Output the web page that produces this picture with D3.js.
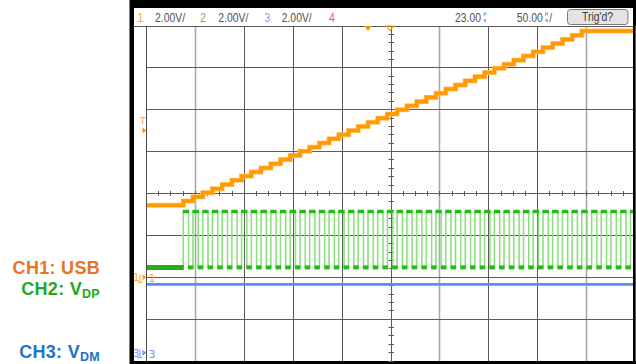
<!DOCTYPE html>
<html><head><meta charset="utf-8">
<script src="https://cdn.jsdelivr.net/npm/d3@7"></script>
<style>body{margin:0;background:#fff;} svg{display:block;}</style>
</head><body>
<svg id="c" width="636" height="364"></svg>
<script>
// ---------------- data ----------------
const channelNames = ["CH1: USB", "CH2: V", "CH3: V"];
const channelSubs = ["", "DP", "DM"];
const headerNums = ["1", "2", "3", "4"];
const headerScales = ["2.00V/", "2.00V/", "2.00V/"];
const voltsPerDiv = [2, 2, 2];
const groundDiv = [-2, -2, -3.8];            // channel ground marker positions (divisions)
const triggerDelay = "23.00";
const timeBase = "50.00";
const trigStatus = "Trig'd?";
const timeDomainUs = [0, 500];               // 10 div x 50 us
const divDomain = [-4, 4];

// CH2 (D+) rising edges, microseconds
const pulseRise = [37.6,47.5,57.5,67.4,77.4,87.3,97.2,107.2,117.1,127.1,137.0,146.9,156.9,166.8,176.8,
  186.7,196.6,206.6,216.5,226.5,236.4,246.3,256.3,266.2,276.2,286.1,296.0,306.0,315.9,325.9,335.8,345.7,
  355.7,365.6,375.6,385.5,395.4,405.4,415.3,425.3,435.2,445.1,455.1,465.0,475.0,484.9,494.8];
const pulseWidthUs = 5.4;
const ch2High = 3.14, ch2Low = 0.47;

// CH1 (VBUS) staircase: baseline then one level per D+ pulse
const ch1Baseline = 3.44;
const ch1Levels = [3.64,3.84,4.04,4.23,4.43,4.63,4.83,5.03,5.22,5.42,5.62,5.82,6.02,6.21,6.41,6.61,6.81,
  7.01,7.20,7.40,7.60,7.80,8.00,8.19,8.39,8.59,8.79,8.99,9.18,9.38,9.58,9.78,9.98,10.17,10.37,10.57,10.77,
  10.97,11.16,11.36,11.56,11.76];

// CH3 (D-) constant level
const ch3Level = 3.26;

// ---------------- drawing ----------------
const svg = d3.select("#c");
const x = d3.scaleLinear().domain(timeDomainUs).range([146.5, 635.5]);
const yd = d3.scaleLinear().domain(divDomain).range([361, 26]);
const chY = (v, ch) => yd(v / voltsPerDiv[ch] + groundDiv[ch]);
const px = v => Math.floor(v) + 0.5;

// frame
svg.append("rect").attr("x", 129.5).attr("y", 0).attr("width", 506.5).attr("height", 364).attr("fill", "#000");
svg.append("rect").attr("x", 134).attr("y", 8).attr("width", 499).attr("height", 353).attr("fill", "#fff");

// grid
const g = svg.append("g");
const vTicks = d3.range(0, 501, 50);
const lightCols = [1, 6, 9];
vTicks.forEach((t, i) => {
  if (i === 0) return;
  const light = lightCols.includes(i);
  g.append("line").attr("x1", px(x(t))).attr("x2", px(x(t))).attr("y1", 26).attr("y2", 361)
    .attr("stroke", light ? "#a9a9a9" : "#5a5a5a").attr("stroke-width", light ? 1.6 : 1);
});
d3.range(-3, 5, 1).forEach(d => {
  g.append("line").attr("x1", d === 4 ? 134 : 146.5).attr("x2", 633).attr("y1", px(yd(d))).attr("y2", px(yd(d)))
    .attr("stroke", "#5a5a5a").attr("stroke-width", 1);
});
g.append("line").attr("x1", 146.5).attr("x2", 146.5).attr("y1", 26).attr("y2", 361).attr("stroke", "#4a4a4a");
// minor ticks on centre lines
d3.range(0, 501, 12.5).forEach(t => {
  g.append("line").attr("x1", px(x(t))).attr("x2", px(x(t))).attr("y1", 191).attr("y2", 196).attr("stroke", "#5a5a5a");
});
d3.range(-4, 4.01, 0.2).forEach(d => {
  g.append("line").attr("x1", 388.5).attr("x2", 394).attr("y1", px(yd(d))).attr("y2", px(yd(d))).attr("stroke", "#5a5a5a");
});

// clip
svg.append("clipPath").attr("id", "pc").append("rect").attr("x", 147).attr("y", 27).attr("width", 486).attr("height", 334);
const tr = svg.append("g").attr("clip-path", "url(#pc)");

// CH3 blue line
tr.append("line").attr("x1", x(0)).attr("x2", x(500)).attr("y1", chY(ch3Level, 2)).attr("y2", chY(ch3Level, 2))
  .attr("stroke", "#5a8cff").attr("stroke-width", 2.6);

// CH2 green pulses
const gPts = [[0, ch2Low]];
pulseRise.forEach(r => { gPts.push([r, ch2High]); gPts.push([r + pulseWidthUs, ch2Low]); });
gPts.push([500, ch2Low]);
const gLine = d3.line().x(d => x(d[0])).y(d => chY(d[1], 1)).curve(d3.curveStepAfter);
tr.append("path").attr("d", gLine(gPts)).attr("fill", "none").attr("stroke", "#8fe082").attr("stroke-width", 1.6);
pulseRise.forEach((r, i) => {
  tr.append("line").attr("x1", x(r) - 0.5).attr("x2", x(r + pulseWidthUs) + 0.5)
    .attr("y1", chY(ch2High, 1)).attr("y2", chY(ch2High, 1)).attr("stroke", "#22bb18").attr("stroke-width", 3.5);
  const nxt = i + 1 < pulseRise.length ? pulseRise[i + 1] : 500;
  tr.append("line").attr("x1", x(r + pulseWidthUs) - 0.5).attr("x2", x(nxt) + 0.5)
    .attr("y1", chY(ch2Low, 1)).attr("y2", chY(ch2Low, 1)).attr("stroke", "#22bb18").attr("stroke-width", 4);
});
tr.append("line").attr("x1", x(0)).attr("x2", x(pulseRise[0]) + 0.5)
  .attr("y1", chY(ch2Low, 1)).attr("y2", chY(ch2Low, 1)).attr("stroke", "#22b018").attr("stroke-width", 5);

// CH1 orange staircase
const oPts = [[0, ch1Baseline]];
ch1Levels.forEach((v, i) => oPts.push([pulseRise[i], v]));
oPts.push([500, ch1Levels[ch1Levels.length - 1]]);
const oLine = d3.line().x(d => x(d[0])).y(d => chY(d[1], 0)).curve(d3.curveStepAfter);
tr.append("path").attr("d", oLine(oPts)).attr("fill", "none").attr("stroke", "#ffc878").attr("stroke-width", 5);
tr.append("path").attr("d", oLine(oPts)).attr("fill", "none").attr("stroke", "#ff9a00").attr("stroke-width", 3.6);

// header (narrow text via horizontal scaling of Liberation Sans)
const hdr = svg.append("g").attr("font-family", "'Liberation Sans',Arial,sans-serif").attr("font-size", 13);
function narrow(xx, yy, str, col, anchor) {
  return hdr.append("g").attr("transform", `translate(${xx},${yy}) scale(0.8,1)`)
    .append("text").attr("x", 0).attr("y", 0).attr("fill", col).attr("text-anchor", anchor || "start").text(str);
}
const numCol = ["#ffa41c", "#44c844", "#8a9cff", "#ff3d9a"];
const numX = [137.5, 200, 264.5, 329];
headerNums.forEach((n, i) => narrow(numX[i], 21.5, n, numCol[i]));
const scX = [155, 218.3, 281.7];
headerScales.forEach((s, i) => narrow(scX[i], 21.5, s, "#505050"));
function usLabel(xs, val, slash) {
  narrow(xs, 21.5, val, "#505050");
  hdr.append("text").attr("x", xs + 29.8).attr("y", 15).attr("font-size", 5.5).attr("text-anchor", "middle").attr("fill", "#505050").text("µ");
  hdr.append("text").attr("x", xs + 29.8).attr("y", 21.8).attr("font-size", 5.5).attr("text-anchor", "middle").attr("fill", "#505050").text("s");
  if (slash) narrow(xs + 32.5, 21.5, "/", "#505050");
}
usLabel(455, triggerDelay, false);
usLabel(516.7, timeBase, true);
hdr.append("rect").attr("x", 567.5).attr("y", 9.5).attr("width", 60.5).attr("height", 15).attr("rx", 3)
  .attr("fill", "#e4e4e4").attr("stroke", "#7a7a7a");
narrow(597.5, 21, trigStatus, "#404040", "middle");

// trigger position markers (top)
svg.append("path").attr("d", "M364,26 L372,26 L368,31 Z").attr("fill", "#ff9a00");
svg.append("path").attr("d", "M386.5,26 L393.5,26 L390,30.5 Z").attr("fill", "none").attr("stroke", "#ff9a00").attr("stroke-width", 1.2);
// trigger level marker (left)
svg.append("text").attr("x", 140).attr("y", 124).attr("font-family", "'DejaVu Sans',sans-serif").attr("font-size", 9).attr("fill", "#ffa41c").text("T");
svg.append("path").attr("d", "M142.5,127.5 L146.5,130.5 L142.5,133.5 Z").attr("fill", "#ff9a00");

// channel ground markers
function gnd(ch, col) {
  const yy = yd(groundDiv[ch]);
  const m = svg.append("g").attr("fill", col).attr("stroke", col);
  m.append("text").attr("x", 133).attr("y", yy + 4).attr("stroke", "none").attr("font-family", "'DejaVu Sans',sans-serif").attr("font-size", 10).text(String(ch + 1));
  m.append("line").attr("x1", 140).attr("x2", 140).attr("y1", yy - 3).attr("y2", yy + 5).attr("stroke-width", 1);
  m.append("line").attr("x1", 137.5).attr("x2", 142.5).attr("y1", yy + 5).attr("y2", yy + 5).attr("stroke-width", 1);
  m.append("path").attr("d", `M142.5,${yy - 3} L146.5,${yy} L142.5,${yy + 3} Z`).attr("stroke", "none");
  m.append("text").attr("x", 148.5).attr("y", yy + 5).attr("stroke", "none").attr("font-family", "'DejaVu Sans',sans-serif").attr("font-size", 11).text(String(ch + 1));
}
gnd(0, "#ffa41c");
gnd(2, "#7b8cff");

// left channel labels
const labCol = ["#e87524", "#22a822", "#1c73c8"];
const labY = [274, 295, 357.5];
channelNames.forEach((nm, i) => {
  const t = svg.append("text").attr("x", 100).attr("y", labY[i]).attr("text-anchor", "end")
    .attr("font-family", "'Liberation Sans',Arial,sans-serif").attr("font-weight", "bold").attr("font-size", 18)
    .attr("letter-spacing", 0.3).attr("fill", labCol[i]);
  t.append("tspan").text(nm);
  if (channelSubs[i]) t.append("tspan").attr("font-size", 12.5).attr("dy", 3).text(channelSubs[i]);
});
</script>
</body></html>
